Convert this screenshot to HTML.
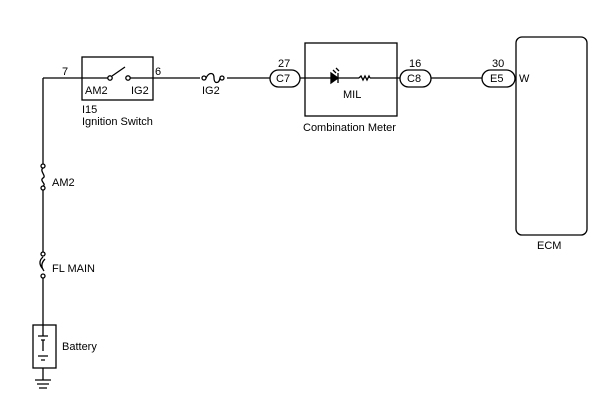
<!DOCTYPE html><html><head><style>body{margin:0;background:#fff}svg{display:block}text{font-family:"Liberation Sans",sans-serif;font-size:11px;fill:#000}</style></head><body>
<svg width="605" height="407" viewBox="0 0 605 407" xmlns="http://www.w3.org/2000/svg" stroke="#000" fill="none" stroke-width="1.3">
<!-- left vertical -->
<path d="M43 78H108M43 78V164M43 190V252M43 277V325M43 368V380"/>
<circle cx="43" cy="166" r="2" fill="#fff"/><circle cx="43" cy="188" r="2" fill="#fff"/>
<path d="M43 168c-4 3 4 8 0 10c-4 3 4 6 0 8"/>
<circle cx="43" cy="254" r="2" fill="#fff"/><circle cx="43" cy="276" r="2" fill="#fff"/>
<path d="M43 257c-5 4-3 9 0 12M45 259c-4 4-4 8-1 12"/>
<rect x="33" y="325" width="23" height="43"/>
<path d="M38 336h10M41 340h4M43 340v11M38 356h10M41 360h4M43 336v-11"/>
<path d="M35 380h16M37 384h12M39 388h8"/>
<!-- ignition -->
<rect x="82" y="57" width="71" height="43"/>
<path d="M108 78l2 0M112 76l13-9"/>
<circle cx="110" cy="78" r="2.2" fill="#fff"/><circle cx="128" cy="78" r="2.2" fill="#fff"/>
<path d="M130 78H200M227 78H270"/>
<circle cx="204" cy="78" r="2" fill="#fff"/><circle cx="222" cy="78" r="2" fill="#fff"/>
<path d="M206 78c3-6 8-6 8 0s5 6 6 0"/>
<rect x="270" y="70" width="30" height="17" rx="8.5"/>
<rect x="305" y="43" width="92" height="73"/>
<path d="M300 78H331M338 78H359M370 78H400"/>
<path d="M331 73v10l7-5z" fill="#000"/><path d="M338 73v10"/>
<path d="M359 78l2-2 2 4 2-4 2 4 2-4 1 2"/>
<path d="M333 70l3 3M336 68l3 3"/>
<rect x="400" y="70" width="31" height="17" rx="8.5"/>
<path d="M431 78H482"/>
<rect x="482" y="70" width="33" height="17" rx="8.5"/>
<rect x="516" y="37" width="71" height="198" rx="6"/>
<g stroke="none">
<text x="62" y="75">7</text><text x="155" y="75">6</text>
<text x="85" y="94">AM2</text><text x="131" y="94">IG2</text>
<text x="82" y="113">I15</text><text x="82" y="125">Ignition Switch</text>
<text x="202" y="94">IG2</text>
<text x="278" y="67">27</text><text x="276" y="82">C7</text>
<text x="343" y="98">MIL</text>
<text x="303" y="131">Combination Meter</text>
<text x="409" y="67">16</text><text x="407" y="82">C8</text>
<text x="492" y="67">30</text><text x="490" y="82">E5</text>
<text x="519" y="82">W</text>
<text x="537" y="249">ECM</text>
<text x="52" y="186">AM2</text>
<text x="52" y="272">FL MAIN</text>
<text x="62" y="350">Battery</text>
</g>
</svg></body></html>
